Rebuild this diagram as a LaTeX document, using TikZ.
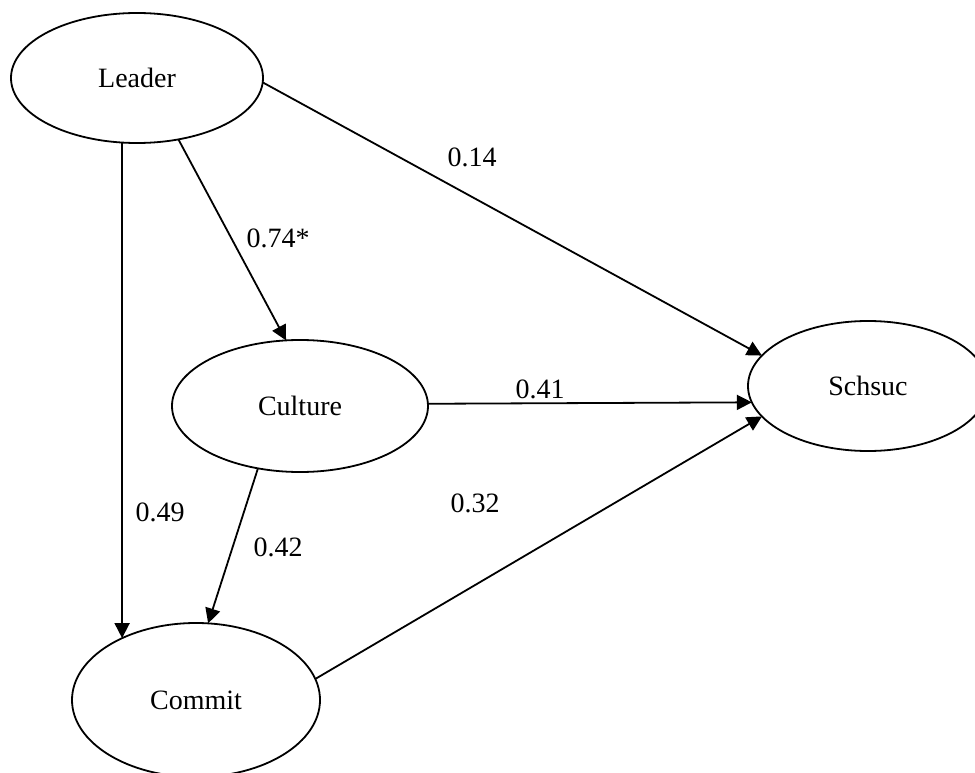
\documentclass[tikz,border=0pt]{standalone}
\usepackage{fontspec}
\setmainfont{Liberation Serif}
\usetikzlibrary{shapes.geometric,arrows.meta}
\begin{document}
\begin{tikzpicture}[x=1pt,y=-1pt,
  every node/.style={font=\fontsize{28}{34}\selectfont},
  latent/.style={draw,ellipse,line width=1.8pt,inner sep=0pt,outer sep=0pt},
  path/.style={line width=1.8pt,-{Triangle[length=15pt,width=15pt]}},
  coef/.style={inner sep=0pt}]
\useasboundingbox (0,0) rectangle (975,773);
\begin{scope}
\clip (0,0) rectangle (975,773);
% latent variables
\node[latent,minimum width=252pt,minimum height=130pt] (leader) at (137,78) {Leader};
\node[latent,minimum width=256pt,minimum height=132pt] (culture) at (300,406) {Culture};
\node[latent,minimum width=240pt,minimum height=130pt] (schsuc) at (868,386) {Schsuc};
\node[latent,minimum width=248pt,minimum height=154pt] (commit) at (196,700) {Commit};
% structural paths
\draw[path] (leader.-2.3) -- (schsuc.164.3);
\draw[path] (leader.-56.3) -- (culture.102.8);
\draw[path] (leader.-103) -- (leader.-103 |- commit.140);
\draw[path] (culture.1.3) -- (schsuc.188);
\draw[path] (culture.-124.7) -- (commit.81);
\draw[path] (commit.10) -- (schsuc.196.6);
% path coefficients
\node[coef] (c14) at (472,157) {0.14};
\node[coef] (c74) at (278,238) {0.74*};
\node[coef] (c41) at (540,389) {0.41};
\node[coef] (c49) at (160,512) {0.49};
\node[coef] (c32) at (475,503) {0.32};
\node[coef] (c42) at (278,547) {0.42};
\end{scope}
\end{tikzpicture}
\end{document}
